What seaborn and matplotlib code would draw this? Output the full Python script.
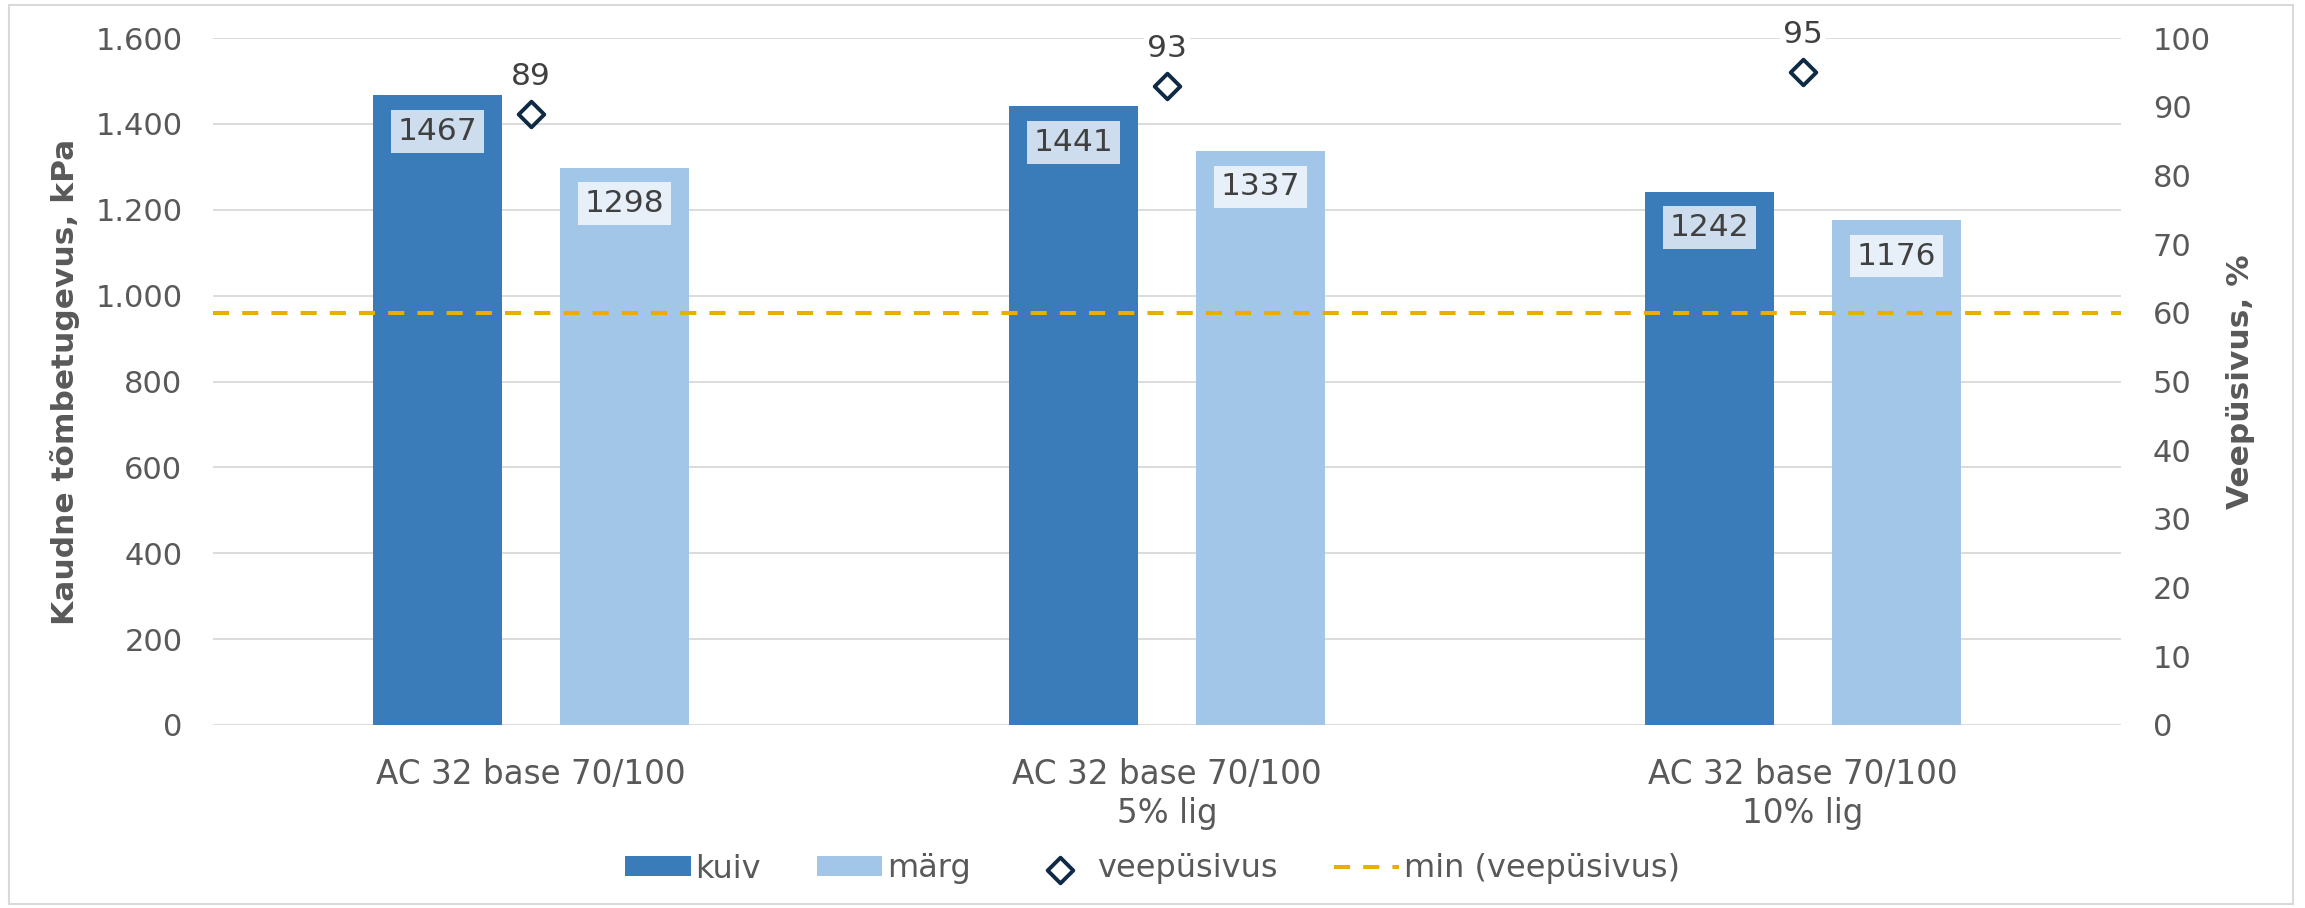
import pandas as pd
import seaborn as sns
import matplotlib.pyplot as plt
from matplotlib.patches import Rectangle
from matplotlib.ticker import FuncFormatter, MultipleLocator

# Chart data
categories = ["AC 32 base 70/100", "AC 32 base 70/100\n5% lig", "AC 32 base 70/100\n10% lig"]
kuiv = [1467, 1441, 1242]
marg = [1298, 1337, 1176]
veepusivus = [89, 93, 95]
min_veepusivus = 60

df = pd.DataFrame({
    "segu": categories * 2,
    "seisund": ["kuiv"] * len(categories) + ["märg"] * len(categories),
    "tugevus": kuiv + marg,
})

sns.set_style("white")
plt.rcParams["font.family"] = ["DejaVu Sans"]

grey = "#595959"
dark = "#404040"
W, H = 2305, 908

fig = plt.figure(figsize=(W / 100, H / 100), dpi=100)
ax = fig.add_axes([213 / W, 1 - 725 / H, 1908 / W, 687 / H])

sns.barplot(
    data=df, x="segu", y="tugevus", hue="seisund",
    palette=["#3A7CB9", "#A2C6E7"], saturation=1,
    width=0.588, gap=0.31, linewidth=0, ax=ax,
)

ax.set_ylim(0, 1600)
ax.yaxis.set_major_locator(MultipleLocator(200))
ax.yaxis.set_major_formatter(FuncFormatter(lambda v, p: f"{int(v):,}".replace(",", ".")))
ax.yaxis.grid(True, color="#D9D9D9", lw=1.3)
ax.set_axisbelow(True)
for s in ax.spines.values():
    s.set_visible(False)
ax.tick_params(axis="y", length=0, labelsize=22, colors=grey, pad=22)
ax.tick_params(axis="x", length=0, labelsize=23.5, colors=grey, pad=24)
ax.set_xlabel("")
ax.set_ylabel("Kaudne tõmbetugevus, kPa", fontsize=22.5, fontweight="bold", color=grey)
ax.yaxis.set_label_coords(-0.0697, 0.5)

for container in ax.containers:
    ax.bar_label(
        container, fmt="%d", padding=-36.4, fontsize=22.5, color=dark,
        bbox=dict(boxstyle="square,pad=0.22", fc="white", ec="none", alpha=0.75),
    )

# secondary axis: water resistance
ax2 = ax.twinx()
ax2.axhline(min_veepusivus, color="#E8AE00", lw=2.9, dashes=(4, 3.25),
            label="min (veepüsivus)", zorder=2)
sns.scatterplot(
    x=categories, y=veepusivus, marker="D", s=170, color="white",
    edgecolor="#0F2A44", linewidth=2.8, ax=ax2, label="veepüsivus", zorder=3,
)
for cat, v in zip(categories, veepusivus):
    ax2.annotate(
        str(v), (cat, v), xytext=(0, 27), textcoords="offset points",
        ha="center", va="center", fontsize=22.5, color=dark,
        bbox=dict(boxstyle="square,pad=0.1", fc="white", ec="none"),
    )

ax2.set_ylim(0, 100)
ax2.yaxis.set_major_locator(MultipleLocator(10))
for s in ax2.spines.values():
    s.set_visible(False)
ax2.tick_params(axis="y", length=0, labelsize=22, colors=grey, pad=23)
ax2.set_ylabel("Veepüsivus, %", fontsize=22.5, fontweight="bold", color=grey)
ax2.yaxis.set_label_coords(1.055, 0.5)

# the scatter on the twin axis autoscales x; restore the categorical range
ax.set_xlim(-0.5, len(categories) - 0.5)

# legend below the plot
h1, l1 = ax.get_legend_handles_labels()
h2, l2 = ax2.get_legend_handles_labels()
if ax.get_legend() is not None:
    ax.get_legend().remove()
if ax2.get_legend() is not None:
    ax2.get_legend().remove()
order = ["kuiv", "märg", "veepüsivus", "min (veepüsivus)"]
lookup = dict(zip(l1 + l2, h1 + h2))
fig.legend(
    [lookup[k] for k in order], order,
    loc="center", bbox_to_anchor=(0.5, 1 - 869 / H), ncol=4, frameon=False,
    fontsize=23, labelcolor=grey, handlelength=2.05, handleheight=0.6,
    handletextpad=0.15, columnspacing=1.75,
)

fig.add_artist(Rectangle((9 / W, 4 / H), (2293 - 9) / W, (904 - 5) / H,
                         transform=fig.transFigure, fill=False, ec="#D9D9D9", lw=1.5))

fig.savefig("out.png", dpi=100)
